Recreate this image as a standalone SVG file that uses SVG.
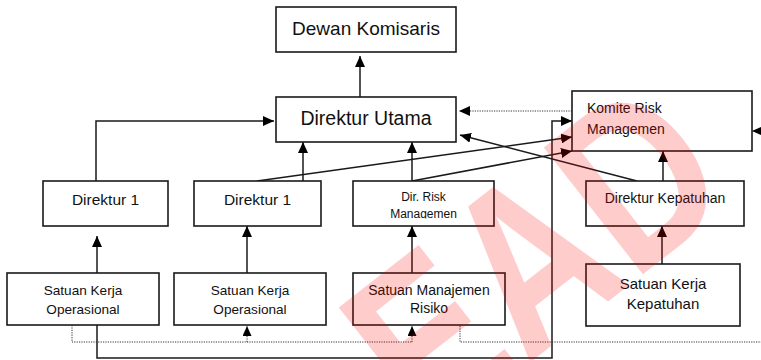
<svg xmlns="http://www.w3.org/2000/svg" width="761" height="360" viewBox="0 0 761 360">
  <style>
    .box { fill: #ffffff; stroke: #1a1a1a; stroke-width: 1.6; }
    .lbl { font-family: "Liberation Sans", Arial, sans-serif; fill: #111111; text-anchor: middle; }
    .ln { fill: none; stroke: #1a1a1a; stroke-width: 1.5; }
    .dot { fill: none; stroke: #333333; stroke-width: 1; stroke-dasharray: 1.2 1.2; }
    .wm { font-family: "Liberation Sans", Arial, sans-serif; font-weight: bold; fill: #ff0000; fill-opacity: 0.2; }
  </style>
  <defs>
    <marker id="arrow" viewBox="0 0 11 10" refX="11" refY="5" markerWidth="11" markerHeight="10" markerUnits="userSpaceOnUse" orient="auto">
      <path d="M0,0 L11,5 L0,10 z" fill="#000000"/>
    </marker>
    <marker id="arrowS" viewBox="0 0 10 9" refX="10" refY="4.5" markerWidth="10" markerHeight="9" markerUnits="userSpaceOnUse" orient="auto">
      <path d="M0,0 L10,4.5 L0,9 z" fill="#000000"/>
    </marker>
    <clipPath id="dirRiskClip">
      <rect x="353" y="181" width="141" height="37.5"/>
    </clipPath>
  </defs>

  <!-- connectors -->
  <g id="connectors">
    <path class="ln" d="M360,97 V56" marker-end="url(#arrow)"/>
    <path class="ln" d="M96,181 V121 H274" marker-end="url(#arrow)"/>
    <path class="ln" d="M97,273 V236" marker-end="url(#arrow)"/>
    <path class="ln" d="M247,273 V226" marker-end="url(#arrow)"/>
    <path class="ln" d="M303,181 V142" marker-end="url(#arrow)"/>
    <path class="ln" d="M257,181 L572,137" marker-end="url(#arrow)"/>
    <path class="ln" d="M412,181 V142" marker-end="url(#arrow)"/>
    <path class="ln" d="M412,181 L572,151" marker-end="url(#arrow)"/>
    <path class="ln" d="M412,273 V226" marker-end="url(#arrow)"/>
    <path class="ln" d="M662,264 V226" marker-end="url(#arrow)"/>
    <path class="ln" d="M663,181 V151" marker-end="url(#arrow)"/>
    <path class="ln" d="M637,181 L460,135" marker-end="url(#arrow)"/>
    <path class="ln" d="M97,325 V358 H552 V121 H572" marker-end="url(#arrow)"/>
    <path class="dot" d="M572,111 H459" marker-end="url(#arrow)"/>
    <path class="dot" d="M72,325 V342 H412"/>
    <path class="dot" d="M247,342 V326" marker-end="url(#arrowS)"/>
    <path class="dot" d="M412,342 V326" marker-end="url(#arrowS)"/>
    <path class="dot" d="M460,326 V342 H761"/>
    <path class="dot" d="M761,131 H752" marker-end="url(#arrow)"/>
  </g>

  <g id="dewan-komisaris">
    <rect class="box" x="276" y="7" width="180" height="45"/>
    <text class="lbl" x="366" y="35" font-size="19">Dewan Komisaris</text>
  </g>

  <g id="direktur-utama">
    <rect class="box" x="276" y="97" width="180" height="45"/>
    <text class="lbl" x="366" y="125" font-size="19.5">Direktur Utama</text>
  </g>

  <g id="komite-risk">
    <rect class="box" x="572" y="91" width="180" height="60"/>
    <text class="lbl" x="587" y="113" font-size="14" style="text-anchor:start">Komite Risk</text>
    <text class="lbl" x="587" y="134" font-size="14" style="text-anchor:start">Managemen</text>
  </g>

  <g id="direktur-1a">
    <rect class="box" x="43" y="181" width="125" height="45"/>
    <text class="lbl" x="105.5" y="205" font-size="15.5">Direktur 1</text>
  </g>

  <g id="direktur-1b">
    <rect class="box" x="194" y="181" width="127" height="45"/>
    <text class="lbl" x="257.5" y="205" font-size="15.5">Direktur 1</text>
  </g>

  <g id="dir-risk">
    <rect class="box" x="353" y="181" width="141" height="45"/>
    <g clip-path="url(#dirRiskClip)">
      <text class="lbl" x="423.5" y="201" font-size="12">Dir. Risk</text>
      <text class="lbl" x="423.5" y="218" font-size="12">Managemen</text>
    </g>
  </g>

  <g id="direktur-kepatuhan">
    <rect class="box" x="586" y="181" width="158" height="45"/>
    <text class="lbl" x="665" y="203" font-size="14">Direktur Kepatuhan</text>
  </g>

  <g id="sk-operasional-a">
    <rect class="box" x="7" y="273" width="152" height="52"/>
    <text class="lbl" x="83" y="295" font-size="13.6">Satuan Kerja</text>
    <text class="lbl" x="83" y="314" font-size="13.6">Operasional</text>
  </g>

  <g id="sk-operasional-b">
    <rect class="box" x="174" y="273" width="152" height="52"/>
    <text class="lbl" x="250" y="295" font-size="13.6">Satuan Kerja</text>
    <text class="lbl" x="250" y="314" font-size="13.6">Operasional</text>
  </g>

  <g id="satuan-manajemen-risiko">
    <rect class="box" x="353" y="273" width="152" height="52"/>
    <text class="lbl" x="429" y="295" font-size="14">Satuan Manajemen</text>
    <text class="lbl" x="429" y="313" font-size="14">Risiko</text>
  </g>

  <g id="sk-kepatuhan">
    <rect class="box" x="586" y="264" width="154" height="62"/>
    <text class="lbl" x="663" y="289" font-size="15">Satuan Kerja</text>
    <text class="lbl" x="663" y="309" font-size="15">Kepatuhan</text>
  </g>

  <!-- watermark -->
  <text class="wm" font-size="234" transform="translate(428,442) rotate(-38) scale(0.8,1)">EAD</text>
</svg>
